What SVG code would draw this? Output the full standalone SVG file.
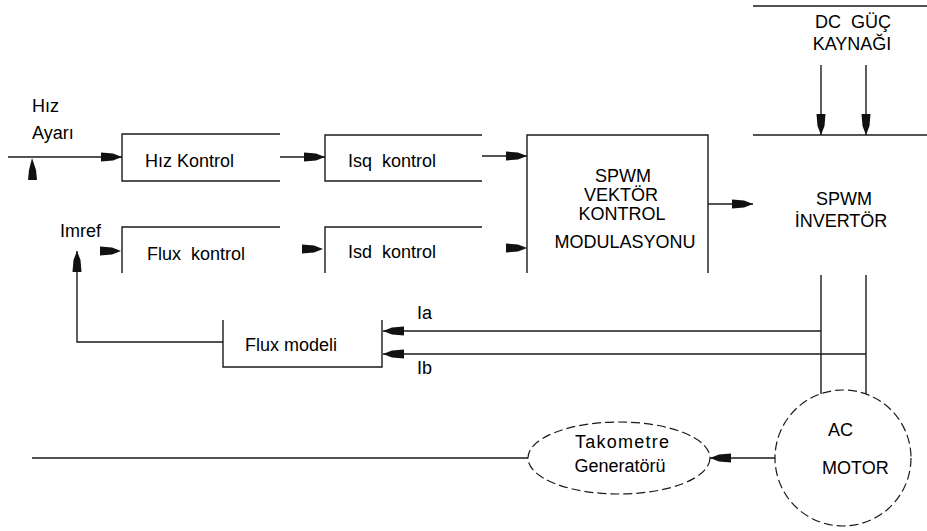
<svg xmlns="http://www.w3.org/2000/svg" width="927" height="531" viewBox="0 0 927 531">
<style>
  .ln{fill:none;stroke:#1a1a1a;stroke-width:1.4}
  .ds{fill:none;stroke:#1a1a1a;stroke-width:1.2;stroke-dasharray:9 4}
  .t{font-family:"Liberation Sans",Arial,sans-serif;font-size:18px;fill:#000}
  .m{text-anchor:middle}
  .hd{fill:#111}
</style>
<defs>
  <path id="head" d="M0,0 L-9,-3.5 L-21,-4.5 L-21,4.5 L-9,3.5 Z"/>
  <marker id="ah" markerUnits="userSpaceOnUse" markerWidth="24" markerHeight="12" viewBox="-22 -6 24 12" refX="0" refY="0" orient="auto">
    <path d="M0,0 L-9,-3.5 L-21,-4.5 L-21,4.5 L-9,3.5 Z" fill="#111"/>
  </marker>
</defs>
<rect width="927" height="531" fill="#fff"/>

<g id="connectors">
  <line class="ln" x1="8" y1="157" x2="122" y2="157" marker-end="url(#ah)"/>
  <path class="hd" d="M32,158 L29,170 L28,180 L37,180 L36,170 Z"/>
  <line class="ln" x1="280" y1="157" x2="325" y2="157" marker-end="url(#ah)"/>
  <line class="ln" x1="482" y1="156" x2="527" y2="156" marker-end="url(#ah)"/>
  <use href="#head" class="hd" transform="translate(121,251)"/>
  <use href="#head" class="hd" transform="translate(323,249)"/>
  <use href="#head" class="hd" transform="translate(527,248)"/>
  <polyline class="ln" points="223,342 77,342 77,251" marker-end="url(#ah)"/>
  <line class="ln" x1="708" y1="204" x2="753" y2="204" marker-end="url(#ah)"/>
  <line class="ln" x1="821" y1="65" x2="821" y2="135" marker-end="url(#ah)"/>
  <line class="ln" x1="866" y1="65" x2="866" y2="135" marker-end="url(#ah)"/>
  <line class="ln" x1="821" y1="275" x2="821" y2="394"/>
  <line class="ln" x1="866" y1="275" x2="866" y2="394"/>
  <line class="ln" x1="821" y1="331" x2="383" y2="331" marker-end="url(#ah)"/>
  <line class="ln" x1="866" y1="354" x2="383" y2="354" marker-end="url(#ah)"/>
  <line class="ln" x1="775" y1="458" x2="710" y2="458" marker-end="url(#ah)"/>
  <line class="ln" x1="528" y1="458" x2="32" y2="458"/>
</g>

<g id="hiz-ayari">
  <text class="t" x="32" y="112">Hız</text>
  <text class="t" x="32" y="139">Ayarı</text>
</g>
<g id="imref">
  <text class="t" x="60" y="237">Imref</text>
</g>
<g id="hiz-kontrol">
  <path class="ln" d="M280,134 H122 V181 H280"/>
  <text class="t" x="145" y="167">Hız Kontrol</text>
</g>
<g id="isq-kontrol">
  <path class="ln" d="M482,135 H325 V181 H482"/>
  <text class="t" x="348" y="167" xml:space="preserve">Isq  kontrol</text>
</g>
<g id="flux-kontrol">
  <path class="ln" d="M280,227 H122 V273"/>
  <text class="t" x="147" y="260" xml:space="preserve">Flux  kontrol</text>
</g>
<g id="isd-kontrol">
  <path class="ln" d="M482,227 H325 V273"/>
  <text class="t" x="348" y="258" xml:space="preserve">Isd  kontrol</text>
</g>
<g id="spwm-vektor">
  <path class="ln" d="M527,273 V135 H708 V273"/>
  <text class="t m" x="623" y="182">SPWM</text>
  <text class="t m" x="621" y="201">VEKTÖR</text>
  <text class="t m" x="622" y="220">KONTROL</text>
  <text class="t m" x="625" y="248">MODULASYONU</text>
</g>
<g id="dc-guc">
  <line class="ln" x1="753" y1="6" x2="927" y2="6"/>
  <text class="t m" x="853" y="28" xml:space="preserve">DC  GÜÇ</text>
  <text class="t m" x="852" y="50">KAYNAĞI</text>
</g>
<g id="spwm-invertor">
  <line class="ln" x1="753" y1="135" x2="927" y2="135"/>
  <text class="t m" x="844" y="205">SPWM</text>
  <text class="t m" x="841" y="227">İNVERTÖR</text>
</g>
<g id="flux-modeli">
  <path class="ln" d="M223,320 V367 H382 V320"/>
  <text class="t" x="245" y="351">Flux modeli</text>
  <text class="t" x="417" y="319">Ia</text>
  <text class="t" x="417" y="374">Ib</text>
</g>
<g id="ac-motor">
  <circle class="ds" cx="843" cy="458" r="68"/>
  <text class="t" x="828" y="436">AC</text>
  <text class="t" x="822" y="474">MOTOR</text>
</g>
<g id="takometre">
  <ellipse class="ds" cx="619" cy="458" rx="91" ry="36"/>
  <text class="t m" x="622" y="448" textLength="94">Takometre</text>
  <text class="t m" x="620" y="472">Generatörü</text>
</g>
</svg>
